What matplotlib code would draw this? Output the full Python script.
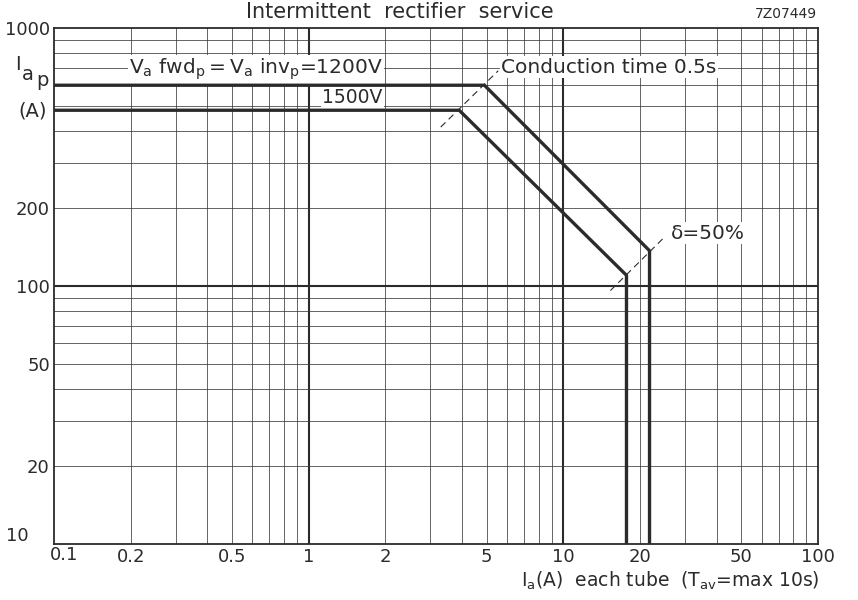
import matplotlib.pyplot as plt
import numpy as np

# curve data: (Ia each tube [A], Iap [A])
ia_1200 = [0.1, 4.9, 21.8, 21.8]
iap_1200 = [600, 600, 137, 10]
ia_1500 = [0.1, 3.9, 17.7, 17.7]
iap_1500 = [480, 480, 110, 10]

# dashed limit lines
cond_x = [3.3, 5.55]
cond_y = [413, 683]
delta_x = [15.3, 25.0]
delta_y = [96, 155]

xticks = [0.1, 0.2, 0.5, 1, 2, 5, 10, 20, 50, 100]
xticklabels = ["", "0.2", "0.5", "1", "2", "5", "10", "20", "50", "100"]
yticks = [10, 20, 50, 100, 200, 1000]
yticklabels = ["", "20", "50", "100", "200", "1000"]

ink = "#2b2b2b"
plt.rcParams['font.family'] = ['DejaVu Sans']

fig = plt.figure(figsize=(8.58, 6.0), dpi=100)
ax = fig.add_axes([54 / 858, 1 - 544 / 600, 764 / 858, 516 / 600])
ax.set_xscale("log")
ax.set_yscale("log")
ax.set_xlim(0.1, 100)
ax.set_ylim(10, 1000)

# hand-drawn style grid
for dec in [0.1, 1, 10]:
    for m in range(2, 10):
        ax.axvline(dec * m, color="#3a3a3a", lw=0.55, zorder=1)
for x in [1, 10]:
    ax.axvline(x, color=ink, lw=1.5, zorder=1)
for dec in [10, 100]:
    for m in range(2, 10):
        ax.axhline(dec * m, color="#3a3a3a", lw=0.55, zorder=1)
ax.axhline(100, color=ink, lw=1.5, zorder=1)

ax.plot(ia_1200, iap_1200, color=ink, lw=2.4, zorder=3)
ax.plot(ia_1500, iap_1500, color=ink, lw=2.4, zorder=3)
ax.plot(cond_x, cond_y, color=ink, lw=0.8, ls=(0, (6, 4)), zorder=3)
ax.plot(delta_x, delta_y, color=ink, lw=0.8, ls=(0, (6, 4)), zorder=3)

for s in ax.spines.values():
    s.set_color(ink)
    s.set_linewidth(1.3)

ax.set_xticks(xticks)
ax.set_xticklabels(xticklabels)
ax.set_yticks(yticks)
ax.set_yticklabels(yticklabels)
ax.minorticks_off()
ax.tick_params(length=0, labelsize=13, colors=ink, pad=3)

# corner labels placed by hand so they don't collide
fig.text(17 / 858, 1 - 536 / 600, "10", fontsize=13, color=ink,
         ha="center", va="center")
fig.text(64 / 858, 1 - 555 / 600, "0.1", fontsize=13, color=ink,
         ha="center", va="center")

box = dict(facecolor="white", edgecolor="none", pad=1)
ax.text(0.197, 690, r"$\mathregular{V_a\ fwd_p = V_a\ inv_p}$=1200V", fontsize=14.5,
        color=ink, va="center", ha="left", bbox=box, zorder=2.5)
ax.text(1.13, 540, "1500V", fontsize=13.5, color=ink, va="center", ha="left",
        bbox=box, zorder=2.5)
ax.text(5.7, 705, "Conduction time 0.5s", fontsize=14.5, color=ink,
        va="center", ha="left", bbox=box, zorder=2.5)
ax.text(26.5, 160, "δ=50%", fontsize=14.5, color=ink, va="center", ha="left",
        bbox=box, zorder=2.5)

fig.text(400 / 858, 1 - 12 / 600, "Intermittent  rectifier  service", fontsize=15,
         color=ink, ha="center", va="center")
fig.text(817 / 858, 1 - 14 / 600, "7Z07449", fontsize=10, color=ink,
         ha="right", va="center")
fig.text(18 / 858, 1 - 65 / 600, "I", fontsize=14, color=ink,
         ha="center", va="center")
fig.text(28 / 858, 1 - 74 / 600, "a", fontsize=14, color=ink,
         ha="center", va="center")
fig.text(42 / 858, 1 - 80 / 600, "p", fontsize=14, color=ink,
         ha="center", va="center")
fig.text(33 / 858, 1 - 111 / 600, "(A)", fontsize=14, color=ink,
         ha="center", va="center")
fig.text(820 / 858, 1 - 581 / 600,
         r"$\mathregular{I_a}$(A)  each tube  ($\mathregular{T_{av}}$=max 10s)",
         fontsize=13.5, color=ink, ha="right", va="center")

fig.savefig("out.png", dpi=100)
